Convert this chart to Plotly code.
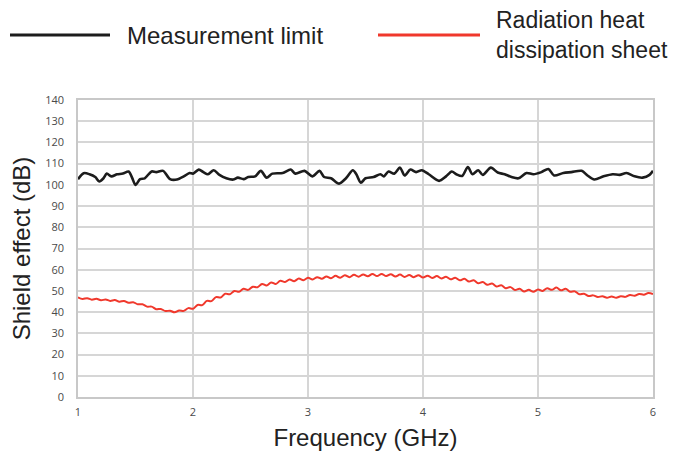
import plotly.graph_objects as go

# Measurement limit (black)
limit_freq = [1.00, 1.05, 1.10, 1.15, 1.185, 1.22, 1.25, 1.29, 1.34, 1.39, 1.44, 1.47, 1.50, 1.54, 1.58,
              1.64, 1.68, 1.74, 1.80, 1.86, 1.92, 1.97, 2.00, 2.05, 2.09, 2.13, 2.18, 2.23, 2.29, 2.35,
              2.39, 2.44, 2.48, 2.54, 2.59, 2.64, 2.69, 2.78, 2.85, 2.89, 2.97, 3.04, 3.10, 3.14, 3.20,
              3.27, 3.33, 3.39, 3.42, 3.46, 3.50, 3.57, 3.63, 3.66, 3.70, 3.75, 3.80, 3.84, 3.89, 3.94,
              3.99, 4.05, 4.14, 4.20, 4.25, 4.29, 4.34, 4.39, 4.43, 4.48, 4.52, 4.59, 4.65, 4.71, 4.77,
              4.83, 4.90, 4.96, 5.03, 5.09, 5.14, 5.22, 5.29, 5.38, 5.43, 5.49, 5.57, 5.65, 5.71, 5.77,
              5.84, 5.91, 5.97, 6.00]
limit_db = [102.7, 105.5, 105.0, 103.7, 101.6, 103.0, 105.3, 104.0, 105.0, 105.3, 106.3, 103.4, 100.0, 102.7, 103.1,
            106.3, 106.0, 106.6, 102.7, 102.5, 104.0, 105.6, 105.3, 107.2, 106.0, 105.0, 106.9, 104.7, 103.1, 102.5,
            103.4, 102.7, 103.7, 104.0, 106.6, 103.4, 105.3, 105.6, 107.2, 105.3, 106.6, 104.0, 106.6, 103.7, 103.1,
            100.6, 103.1, 106.9, 105.0, 101.0, 103.1, 103.7, 105.0, 104.0, 106.3, 105.3, 108.1, 104.4, 107.2, 106.0,
            106.9, 105.0, 101.9, 104.0, 106.3, 105.0, 104.2, 108.4, 105.0, 106.9, 104.7, 108.1, 105.8, 105.0, 103.7,
            103.1, 105.6, 105.0, 106.0, 107.5, 104.4, 105.6, 106.0, 106.6, 104.4, 102.5, 104.0, 105.0, 104.7, 105.6,
            104.0, 103.4, 104.7, 106.6]

# Radiation heat dissipation sheet (red)
sheet_freq = [1.00, 1.04, 1.08, 1.12, 1.16, 1.20, 1.24, 1.28, 1.32, 1.36, 1.40, 1.44, 1.48, 1.52, 1.56, 1.60,
              1.64, 1.68, 1.72, 1.76, 1.80, 1.84, 1.88, 1.92, 1.96, 2.00, 2.04, 2.08, 2.12, 2.16, 2.20, 2.24,
              2.28, 2.32, 2.36, 2.40, 2.44, 2.48, 2.52, 2.56, 2.60, 2.64, 2.68, 2.72, 2.76, 2.80, 2.84, 2.88,
              2.92, 2.96, 3.00, 3.04, 3.08, 3.12, 3.16, 3.20, 3.24, 3.28, 3.32, 3.36, 3.40, 3.44, 3.48, 3.52,
              3.56, 3.60, 3.64, 3.68, 3.72, 3.76, 3.80, 3.84, 3.88, 3.92, 3.96, 4.00, 4.04, 4.08, 4.12, 4.16,
              4.20, 4.24, 4.28, 4.32, 4.36, 4.40, 4.44, 4.48, 4.52, 4.56, 4.60, 4.64, 4.68, 4.72, 4.76, 4.80,
              4.84, 4.88, 4.92, 4.96, 5.00, 5.04, 5.08, 5.12, 5.16, 5.20, 5.24, 5.28, 5.32, 5.36, 5.40, 5.44,
              5.48, 5.52, 5.56, 5.60, 5.64, 5.68, 5.72, 5.76, 5.80, 5.84, 5.88, 5.92, 5.96, 6.00]
sheet_db = [47.0, 46.2, 46.6, 45.9, 46.3, 45.6, 46.0, 45.3, 45.7, 44.9, 45.3, 44.4, 44.7, 43.7, 43.7, 42.6,
            42.6, 41.4, 41.5, 40.5, 40.7, 39.9, 40.8, 40.6, 41.9, 41.6, 43.4, 43.3, 45.3, 45.2, 47.1, 46.9,
            48.7, 48.4, 50.0, 49.6, 51.0, 50.5, 52.0, 51.7, 53.3, 52.6, 54.0, 53.3, 54.8, 54.2, 55.4, 54.6,
            55.8, 55.0, 56.2, 55.4, 56.5, 55.7, 56.8, 56.0, 57.1, 56.2, 57.4, 56.5, 57.6, 56.7, 57.8, 56.9,
            58.0, 57.0, 58.0, 57.0, 57.9, 56.8, 57.7, 56.6, 57.5, 56.5, 57.4, 56.3, 57.2, 56.1, 57.0, 55.9,
            56.7, 55.5, 56.2, 55.0, 55.7, 54.4, 55.0, 53.6, 54.2, 52.9, 53.5, 52.1, 52.7, 51.3, 51.8, 50.4,
            51.0, 49.7, 50.5, 49.6, 50.7, 50.0, 51.3, 50.5, 51.6, 50.3, 51.0, 49.6, 49.8, 48.4, 48.7, 47.6,
            47.9, 47.1, 47.5, 46.8, 47.4, 46.8, 47.5, 47.2, 48.1, 47.7, 48.6, 48.2, 49.0, 48.5]

x_ticks = [1, 2, 3, 4, 5, 6]
y_ticks = [0, 10, 20, 30, 40, 50, 60, 70, 80, 90, 100, 110, 120, 130, 140]

series_names = ["Measurement limit", "Radiation heat<br>dissipation sheet"]
BLACK = "#1c1c1c"
RED = "#f0382c"

fig = go.Figure()
fig.add_trace(go.Scatter(x=limit_freq, y=limit_db, mode="lines", name=series_names[0],
                         line=dict(color=BLACK, width=2.6, shape="spline", smoothing=0.8),
                         showlegend=False))
fig.add_trace(go.Scatter(x=sheet_freq, y=sheet_db, mode="lines", name=series_names[1],
                         line=dict(color=RED, width=2, shape="spline", smoothing=1.0),
                         showlegend=False))

# page body adds an 8px offset; figure is sized so the plot lands where the reference has it
OFF = 8
W, H = 693 - OFF, 454 - OFF
L, T = 78 - OFF, 100 - OFF
pw, ph = 575, 297
R, B = W - L - pw, H - T - ph

def px(x):
    return (x - OFF - L) / pw

def py(y):
    return (H - B - (y - OFF)) / ph

TEXT_FONT = dict(family="Liberation Sans, Arial, sans-serif", size=24, color="#222222")
LEG2_FONT = dict(family="Liberation Sans, Arial, sans-serif", size=23, color="#222222")

fig.add_shape(type="line", xref="paper", yref="paper", x0=px(10), x1=px(110), y0=py(35), y1=py(35),
              line=dict(color=BLACK, width=3))
fig.add_shape(type="line", xref="paper", yref="paper", x0=px(378), x1=px(480), y0=py(35), y1=py(35),
              line=dict(color=RED, width=3))
fig.add_annotation(xref="paper", yref="paper", x=px(125), y=py(35), text=series_names[0],
                   showarrow=False, xanchor="left", yanchor="middle", font=TEXT_FONT)
fig.add_annotation(xref="paper", yref="paper", x=px(494), y=py(35), text=series_names[1],
                   showarrow=False, xanchor="left", yanchor="middle", align="left", font=LEG2_FONT)

GRID = "#d6d6d6"
TICK_FONT = dict(family="Open Sans, Liberation Sans, sans-serif", size=11, color="#4a4a4a")

fig.update_layout(
    width=W, height=H,
    margin=dict(l=L, r=R, t=T, b=B, pad=0, autoexpand=False),
    paper_bgcolor="white", plot_bgcolor="white",
    xaxis=dict(range=[1, 6], tickvals=x_ticks, ticktext=[str(v) for v in x_ticks],
               showgrid=True, gridcolor=GRID, gridwidth=1.5, automargin=False,
               showline=True, linecolor="#c8c8c8", linewidth=1.5, mirror=True,
               zeroline=False, ticks="", tickfont=TICK_FONT, ticklabelstandoff=4,
               title=dict(text="Frequency (GHz)", font=TEXT_FONT, standoff=11)),
    yaxis=dict(range=[0, 140], tickvals=y_ticks, automargin=False,
               showgrid=True, gridcolor=GRID, gridwidth=1.5,
               showline=True, linecolor="#c8c8c8", linewidth=1.5, mirror=True,
               zeroline=False, ticks="", tickfont=TICK_FONT, ticklabelstandoff=10,
               title=dict(text="Shield effect (dB)", font=TEXT_FONT, standoff=10)),
)

fig.write_html("out.html")
